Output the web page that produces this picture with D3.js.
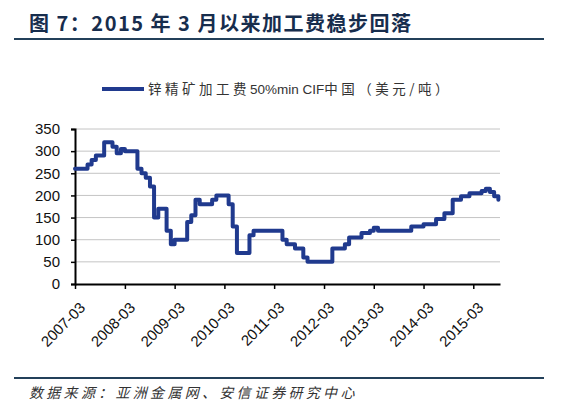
<!DOCTYPE html>
<html>
<head>
<meta charset="utf-8">
<style>
  body { margin: 0; background: #fff; }
  svg text { font-family: "Liberation Sans", Arial, "Noto Sans CJK SC", sans-serif; }
  .cjk { font-family: "Noto Sans CJK SC", sans-serif; }
</style>
</head>
<body>
<div id="chart"></div>
<script src="https://d3js.org/d3.v7.min.js"></script>
<script>
// monthly zinc concentrate treatment charge, starting 2007-03
var startMonth = "2007-03";
var fees = [
  260, 260, 260, 270, 280, 290, 290, 320, 320, 310, 295, 305,   // 2007-03 .. 2008-02
  300, 300, 300, 260, 250, 240, 220, 150, 170, 170, 120, 90,    // 2008-03 .. 2009-02
  100, 100, 100, 140, 155, 190, 180, 180, 180, 190, 200, 200,   // 2009-03 .. 2010-02
  200, 180, 130, 70, 70, 70, 110, 120, 120, 120, 120, 120,      // 2010-03 .. 2011-02
  120, 120, 100, 90, 90, 80, 80, 60, 50, 50, 50, 50,            // 2011-03 .. 2012-02
  50, 50, 80, 80, 80, 90, 105, 105, 105, 115, 115, 120,         // 2012-03 .. 2013-02
  127, 120, 120, 120, 120, 120, 120, 120, 120, 130, 130, 130,   // 2013-03 .. 2014-02
  135, 135, 135, 147, 147, 160, 160, 190, 190, 198, 198, 205,   // 2014-03 .. 2015-02
  205, 205, 210, 215, 208, 198, 190                             // 2015-03 .. 2015-09
];
var tickLabels = ["2007-03", "2008-03", "2009-03", "2010-03", "2011-03",
                  "2012-03", "2013-03", "2014-03", "2015-03"];
var yTicks = [0, 50, 100, 150, 200, 250, 300, 350];

var width = 570, height = 409;
var margin = {left: 75, right: 70, top: 129, bottom: 125};
var navy = "#203a8e";
var tickFont = "'Liberation Sans Narrow', 'Arial Narrow', 'Liberation Sans', Arial, sans-serif";

var parse = d3.timeParse("%Y-%m");
var start = parse(startMonth);
var data = fees.map(function(v, i) {
  return {date: d3.timeMonth.offset(start, i), value: v};
});

var svg = d3.select("#chart").append("svg")
    .attr("width", width)
    .attr("height", height);

var x = d3.scaleTime()
    .domain([start, d3.timeDay.offset(d3.timeMonth.offset(start, 102), 12)])
    .range([margin.left, width - margin.right]);

var y = d3.scaleLinear()
    .domain([0, 350])
    .range([height - margin.bottom, margin.top]);

// title
svg.append("text")
    .attr("class", "cjk")
    .attr("x", 29)
    .attr("y", 31)
    .attr("font-size", 20)
    .attr("font-weight", "bold")
    .attr("letter-spacing", 1.5)
    .attr("fill", "#172d4d")
    .text("图 7：2015 年 3 月以来加工费稳步回落");

svg.append("line")
    .attr("x1", 14).attr("x2", 544)
    .attr("y1", 39).attr("y2", 39)
    .attr("stroke", "#23405a")
    .attr("stroke-width", 2);

// legend
svg.append("line")
    .attr("x1", 102).attr("x2", 144)
    .attr("y1", 89).attr("y2", 89)
    .attr("stroke", navy)
    .attr("stroke-width", 4);

var leg = svg.append("text")
    .attr("x", 148)
    .attr("y", 94)
    .attr("font-size", 13.5)
    .attr("fill", "#333");
leg.append("tspan").attr("class", "cjk").attr("letter-spacing", 3.5).text("锌精矿加工费");
leg.append("tspan").text("50%min CIF");
leg.append("tspan").attr("class", "cjk").attr("letter-spacing", 3.5).text("中国（美元/吨）");

// gridlines
svg.append("g")
  .selectAll("line")
  .data(yTicks.filter(function(d) { return d > 0; }))
  .enter().append("line")
    .attr("x1", margin.left)
    .attr("x2", width - margin.right)
    .attr("y1", function(d) { return y(d); })
    .attr("y2", function(d) { return y(d); })
    .attr("stroke", "#c4c4c4")
    .attr("stroke-width", 1);

// y axis
var yAxis = svg.append("g")
    .attr("transform", "translate(" + margin.left + ",0)")
    .call(d3.axisLeft(y).tickValues(yTicks).tickSize(4).tickPadding(11));
yAxis.select(".domain").attr("stroke", "#000").attr("stroke-width", 2);
yAxis.selectAll(".tick line").attr("stroke", "#000").attr("stroke-width", 1.5);
yAxis.selectAll(".tick text")
    .attr("font-size", 15)
    .attr("font-family", tickFont)
    .attr("fill", "#111");

// x axis
var tickDates = tickLabels.map(function(s) { return parse(s); });
var xAxis = svg.append("g")
    .attr("transform", "translate(0," + y(0) + ")")
    .call(d3.axisBottom(x).tickValues(tickDates).tickSize(5).tickSizeOuter(0)
      .tickFormat(function(d, i) { return tickLabels[i]; }));
xAxis.select(".domain").attr("stroke", "#000").attr("stroke-width", 2);
xAxis.selectAll(".tick line").attr("stroke", "#000").attr("stroke-width", 1.5);
xAxis.selectAll(".tick text")
    .attr("font-size", 15)
    .attr("font-family", tickFont)
    .attr("fill", "#111")
    .attr("text-anchor", "end")
    .attr("transform", "translate(7,21) rotate(-45)")
    .attr("x", 0)
    .attr("y", 0)
    .attr("dy", "0.35em");

// series
var line = d3.line()
    .x(function(d) { return x(d.date); })
    .y(function(d) { return y(d.value); })
    .curve(d3.curveStepAfter);

svg.append("path")
    .datum(data)
    .attr("fill", "none")
    .attr("stroke", navy)
    .attr("stroke-width", 4)
    .attr("stroke-linejoin", "round")
    .attr("stroke-linecap", "round")
    .attr("d", line);

// footer
svg.append("line")
    .attr("x1", 14).attr("x2", 544)
    .attr("y1", 378).attr("y2", 378)
    .attr("stroke", "#23405a")
    .attr("stroke-width", 2);

svg.append("text")
    .attr("class", "cjk")
    .attr("x", 29)
    .attr("y", 398)
    .attr("font-size", 14)
    .attr("font-style", "italic")
    .attr("letter-spacing", 3.3)
    .attr("fill", "#333")
    .text("数据来源：亚洲金属网、安信证券研究中心");
</script>
</body>
</html>
